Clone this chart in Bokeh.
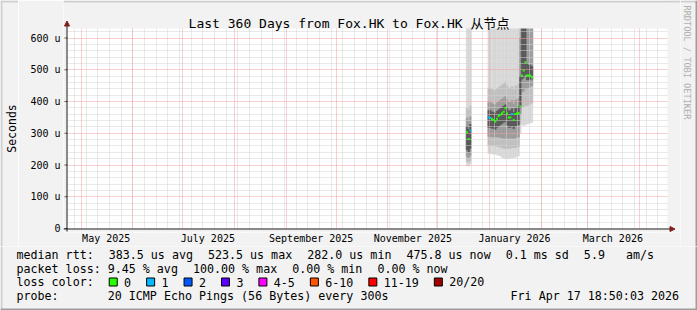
import pandas as pd
from math import pi
from bokeh.plotting import figure
from bokeh.layouts import row, column
from bokeh.models import (Range1d, Label, FixedTicker, Grid, DatetimeTickFormatter,
                          Arrow, NormalHead, BoxAnnotation, ColumnDataSource)
from bokeh.embed import file_html
from bokeh.resources import INLINE

# ---------------- data ----------------
TITLE = "Last 360 Days from Fox.HK to Fox.HK 从节点"
RANGE_START = "2025-04-22 18:50:03"
RANGE_END = "2026-04-17 18:50:03"

days = ["2025-12-18", "2025-12-19", "2025-12-20",
        "2025-12-31", "2026-01-01", "2026-01-02", "2026-01-03", "2026-01-04",
        "2026-01-05", "2026-01-06", "2026-01-07", "2026-01-08", "2026-01-09",
        "2026-01-10", "2026-01-11", "2026-01-12", "2026-01-13", "2026-01-14",
        "2026-01-15", "2026-01-16", "2026-01-17", "2026-01-18", "2026-01-19",
        "2026-01-20", "2026-01-21", "2026-01-22", "2026-01-23", "2026-01-24",
        "2026-01-25", "2026-01-26"]
# median rtt (microseconds)
median_us = [303, 282, 309,
             350, 348, 345, 342, 337, 346, 354, 358, 363, 368, 379, 362, 350,
             350, 361, 342, 361, 362, 364, 385, 482, 498, 523.5, 482, 482, 482, 476]
# lost pings out of 20
loss_pings = [0, 0, 1,
              1, 1, 0, 0, 0, 0, 0, 0, 0, 0, 0, 0, 0, 0, 1, 0, 0, 0, 0, 0,
              0, 0, 0, 0, 0, 0, 0]
# ping distribution (smoke), microseconds
smoke_min = [198, 196, 202,
             236, 236, 235, 234, 234, 232, 230, 228, 224, 222, 220, 220, 220, 221,
             222, 222, 224, 226, 228, 300, 326, 324, 326, 328, 330, 332, 334]
smoke_p10 = [210, 208, 214,
             262, 262, 261, 260, 260, 259, 258, 256, 254, 252, 252, 252, 252, 253,
             254, 254, 255, 256, 258, 330, 385, 382, 388, 386, 388, 392, 395]
smoke_p25 = [226, 222, 230,
             290, 290, 289, 288, 288, 288, 288, 287, 285, 284, 284, 284, 284, 284,
             284, 284, 285, 286, 288, 360, 430, 432, 440, 440, 444, 448, 450]
smoke_p40 = [248, 240, 252,
             318, 318, 316, 314, 312, 318, 322, 326, 330, 334, 336, 326, 318, 318,
             322, 314, 322, 324, 326, 380, 470, 475, 485, 468, 468, 470, 470]
smoke_p60 = [322, 312, 328,
             372, 372, 368, 366, 364, 370, 374, 378, 382, 386, 390, 380, 372, 372,
             378, 366, 378, 380, 384, 480, 700, 700, 700, 520, 515, 515, 510]
smoke_p75 = [348, 338, 352,
             398, 398, 394, 392, 390, 396, 400, 404, 408, 412, 416, 406, 398, 398,
             404, 392, 404, 406, 410, 600, 700, 700, 700, 700, 700, 700, 700]
smoke_p90 = [380, 372, 386,
             442, 442, 438, 436, 434, 440, 444, 448, 452, 456, 460, 450, 442, 442,
             448, 436, 448, 450, 454, 700, 700, 700, 700, 700, 700, 700, 700]
smoke_max = [700] * 30

y_ticks = [0, 100, 200, 300, 400, 500, 600]
y_tick_labels = ["0", "100 u", "200 u", "300 u", "400 u", "500 u", "600 u"]
Y_TOP = 630
x_label_months = ["2025-05-01", "2025-07-01", "2025-09-01", "2025-11-01",
                  "2026-01-01", "2026-03-01"]

legend_rtt = [["median rtt:"], ["383.5 us avg"], ["523.5 us max"], ["282.0 us min"],
              ["475.8 us now"], ["0.1 ms sd"], ["5.9", "", "", "am/s"]]
legend_loss = [["packet loss: 9.45 % avg"], ["100.00 % max"], ["0.00 % min"], ["0.00 % now"]]
loss_title = "loss color:"
loss_labels = ["0", "1", "2", "3", "4-5", "6-10", "11-19", "20/20"]
loss_colors = ["#26ff00", "#00b8ff", "#0059ff", "#5e00ff", "#ff00ff",
               "#ff5500", "#ff0000", "#a10000"]
loss_upper = [0, 1, 2, 3, 5, 10, 19, 20]
probe_head = "probe:"
probe_text = "20 ICMP Echo Pings (56 Bytes) every 300s"
stamp_text = "Fri Apr 17 18:50:03 2026"
y_axis_title = "Seconds"
watermark = "RRDTOOL / TOBI OETIKER"

# ---------------- styling / geometry ----------------
MONO = "DejaVu Sans Mono"
TITLE_FONT = "'DejaVu Sans Mono', 'Noto Sans CJK SC'"
BACK = "#f2f2f2"
SHADE_A = "#cfcfcf"
SHADE_B = "#9e9e9e"
GRID_C = "#d2d2d2"
MGRID_C = "#f0a0a0"
ARROW_C = "#801f1f"
AXIS_C = "#1f1f1f"
SMOKE_C = ["#d8d8d8", "#c0c0c0", "#9c9c9c", "#585858"]
LEG_FS = "11.66px"
CW = 7.02   # legend char advance
GAP = 15.0  # gap between legend items

W, H = 697, 310
LSTRIP = 18          # left strip (bevel + axis title)
RSTRIP = 17          # right strip (watermark)
W_MID = W - LSTRIP - RSTRIP
H_MAIN = 246
H_LEG = H - H_MAIN
PL, PR, PT, PB = 67, 667, 28, 228            # plotting area (canvas px)
FL, FR, FT, FB = 63, LSTRIP + W_MID, 0, 232  # main frame (canvas px)

t0 = pd.Timestamp(RANGE_START)
t1 = pd.Timestamp(RANGE_END)
DAY = pd.Timedelta(days=1)
d = pd.to_datetime(days)
per_px = (t1 - t0) / (PR - PL)
x_start = t0 - per_px * (PL - FL)
x_end = t1 + per_px * (FR - PR)
u_px = Y_TOP / (PB - PT)
y_start = -u_px * (FB - PB)
y_end = Y_TOP + u_px * (PT - FT)


def no_align(fig):
    try:
        fig.frame_align = False
    except Exception:
        pass


def plain(fig, bg):
    no_align(fig)
    fig.background_fill_color = bg
    fig.border_fill_color = bg
    fig.outline_line_color = None
    fig.grid.visible = False


def loss_color(n):
    for up, c in zip(loss_upper, loss_colors):
        if n <= up:
            return c
    return loss_colors[-1]


src = ColumnDataSource(dict(
    left=d.values, right=(d + DAY).values, mid=(d + DAY / 2).values,
    med=median_us, smin=smoke_min, p10=smoke_p10, p25=smoke_p25, p40=smoke_p40,
    p60=smoke_p60, p75=smoke_p75, p90=smoke_p90, smax=smoke_max,
    color=[loss_color(n) for n in loss_pings]))

# ================= main figure =================
p = figure(width=W_MID, height=H_MAIN, x_axis_type="datetime",
           x_range=Range1d(x_start, x_end), y_range=Range1d(y_start, y_end),
           output_backend="svg", toolbar_location=None, title=None,
           min_border_left=FL - LSTRIP, min_border_right=0,
           min_border_top=0, min_border_bottom=H_MAIN - FB)
no_align(p)
p.background_fill_color = "#ffffff"
p.border_fill_color = BACK
p.outline_line_color = None
p.xgrid.visible = False
p.ygrid.visible = False
p.extra_x_ranges = {"px": Range1d(FL, FR)}
p.extra_y_ranges = {"py": Range1d(FB, FT)}

for (lo, hi), col in zip([("smin", "smax"), ("p10", "p90"), ("p25", "p75"),
                          ("p40", "p60")], SMOKE_C):
    p.quad(left="left", right="right", bottom=lo, top=hi, source=src,
           fill_color=col, line_color=col, line_width=0.4, level="image")

month_starts = pd.date_range("2025-05-01", "2026-04-01", freq="MS")
sundays = pd.date_range(t0.normalize(), t1, freq="W-SUN")
ms = lambda ts: ts.value / 1e6
minor_y = [v for v in range(0, Y_TOP, 20) if v % 100 != 0]
for dim, ticks, col in [(0, [ms(s) for s in sundays], GRID_C),
                        (1, minor_y, GRID_C),
                        (0, [ms(m) for m in month_starts], MGRID_C),
                        (1, y_ticks[1:], MGRID_C)]:
    p.add_layout(Grid(dimension=dim, ticker=FixedTicker(ticks=ticks),
                      grid_line_color=col, grid_line_dash="1 1",
                      grid_line_width=1, level="underlay"))

p.rect(x="mid", y="med", width=2, height=2, width_units="screen",
       height_units="screen", fill_color="color", line_color=None, source=src)

for l, r, t, b in [(FL, FR, FT, PT), (FL, FR, PB, FB), (FL, PL, FT, FB), (PR, FR, FT, FB)]:
    p.add_layout(BoxAnnotation(left=l, right=r, top=t, bottom=b,
                               x_range_name="px", y_range_name="py",
                               fill_color=BACK, fill_alpha=1, line_color=None,
                               level="guide"))
p.add_layout(BoxAnnotation(left=FL, right=FR, top=0, bottom=2, x_range_name="px",
                           y_range_name="py", fill_color=SHADE_A, fill_alpha=1,
                           line_color=None, level="annotation"))

p.segment(x0=[PL - 3] * len(y_ticks), x1=[PL] * len(y_ticks), y0=y_ticks, y1=y_ticks,
          x_range_name="px", line_color="#555555", line_width=1, level="overlay")

p.add_layout(Arrow(end=NormalHead(size=5, fill_color=ARROW_C, line_color=ARROW_C),
                   x_start=PL - 0.5, y_start=PB + 3, x_end=PL - 0.5, y_end=PT - 7.5,
                   x_range_name="px", y_range_name="py",
                   line_color=AXIS_C, line_width=1, level="overlay"))
p.add_layout(Arrow(end=NormalHead(size=5, fill_color=ARROW_C, line_color=ARROW_C),
                   x_start=PL - 4, y_start=PB + 0.5, x_end=PR + 7.5, y_end=PB + 0.5,
                   x_range_name="px", y_range_name="py",
                   line_color=AXIS_C, line_width=1, level="overlay"))

p.add_layout(Label(x=W / 2, y=22.5, x_range_name="px", y_range_name="py", text=TITLE,
                   text_font=TITLE_FONT, text_font_size="13px", text_align="center",
                   text_baseline="middle", text_color="black", level="overlay"))

xa = p.xaxis[0]
label_ticks = [ms(pd.Timestamp(m) + pd.Timedelta(days=15)) for m in x_label_months]
xa.ticker = FixedTicker(ticks=label_ticks, minor_ticks=[])
fmt = "%B %Y"
xa.formatter = DatetimeTickFormatter(microseconds=fmt, milliseconds=fmt, seconds=fmt,
                                     minsec=fmt, minutes=fmt, hourmin=fmt, hours=fmt,
                                     days=fmt, months=fmt, years=fmt)
xa.axis_line_color = None
xa.major_tick_line_color = None
xa.minor_tick_line_color = None
xa.major_tick_out = 0
xa.major_tick_in = 0
xa.major_label_standoff = 0
xa.major_label_text_font = MONO
xa.major_label_text_font_size = "10px"
xa.major_label_text_color = "black"

ya = p.yaxis[0]
ya.ticker = FixedTicker(ticks=y_ticks, minor_ticks=[])
ya.major_label_overrides = {t: l for t, l in zip(y_ticks, y_tick_labels)}
ya.axis_line_color = None
ya.major_tick_line_color = None
ya.minor_tick_line_color = None
ya.major_tick_out = 0
ya.major_tick_in = 0
ya.major_label_standoff = 3
ya.major_label_text_font = MONO
ya.major_label_text_font_size = "10px"
ya.major_label_text_color = "black"

# ================= left strip (bevel + axis title) =================
ls = figure(width=LSTRIP, height=H_MAIN, x_range=Range1d(0, LSTRIP),
            y_range=Range1d(H_MAIN, 0), output_backend="svg", toolbar_location=None,
            min_border=0, x_axis_location=None, y_axis_location=None)
plain(ls, BACK)
ls.quad(left=[0, 0], right=[2, LSTRIP], top=[0, 0], bottom=[H_MAIN, 2],
        fill_color=SHADE_A, line_color=None)
ls.add_layout(Label(x=11, y=(PT + PB) / 2, text=y_axis_title, text_font=MONO,
                    text_font_size="11.5px", text_align="center",
                    text_baseline="middle", text_color="black", angle=pi / 2))

# ================= right strip (watermark) =================
rs = figure(width=RSTRIP, height=H_MAIN, x_range=Range1d(W - RSTRIP, W),
            y_range=Range1d(H_MAIN, 0), output_backend="svg", toolbar_location=None,
            min_border=0, x_axis_location=None, y_axis_location=None)
plain(rs, BACK)
rs.add_layout(Label(x=686.5, y=5, text=watermark, text_font=MONO, text_font_size="8.6px",
                    text_align="left", text_baseline="middle", text_color="#b0b0b0",
                    angle=-pi / 2))
rs.quad(left=[W - RSTRIP], right=[W], top=[0], bottom=[2], fill_color=SHADE_A, line_color=None)
rs.quad(left=[W - 2], right=[W], top=[0], bottom=[H_MAIN], fill_color=SHADE_B, line_color=None)

# ================= legend figure =================
lg = figure(width=W, height=H_LEG, x_range=Range1d(0, W),
            y_range=Range1d(H, H_MAIN), output_backend="svg", toolbar_location=None,
            min_border=0, x_axis_location=None, y_axis_location=None)
plain(lg, BACK)


def text(s, x, y, align="left"):
    lg.add_layout(Label(x=x, y=y, text=s, text_font=MONO, text_font_size=LEG_FS,
                        text_align=align, text_baseline="middle", text_color="black"))


def item_row(items, y):
    x = LX
    for parts in items:
        off = 0
        for part in parts:
            if part:
                text(part, x + off * CW, y)
            off += len(part) + 1
        x += (off - 1) * CW + GAP


LX = 16
item_row(legend_rtt, 254)
item_row(legend_loss, 268)
text(loss_title, LX, 281.5)
x = LX + len(loss_title) * CW + GAP
sw_left = []
for lab in loss_labels:
    sw_left.append(x)
    text(lab, x + 15.4, 281.5)
    x += 15.4 + len(lab) * CW + GAP
sw = ColumnDataSource(dict(l=[v + 0.5 for v in sw_left], r=[v + 8.5 for v in sw_left],
                           c=loss_colors))
lg.quad(left="l", right="r", top=277.5, bottom=285.5, source=sw, fill_color="c",
        line_color="black", line_width=1)
text(probe_head, LX, 295.5)
text(probe_text, LX + 13 * CW, 295.5)
text(stamp_text, 678.5, 295.5, align="right")
lg.quad(left=[0], right=[2], top=[H_MAIN], bottom=[H], fill_color=SHADE_A, line_color=None)
lg.quad(left=[0, W - 2], right=[W, W], top=[H - 2, H_MAIN], bottom=[H, H],
        fill_color=SHADE_B, line_color=None)

layout = column(row(ls, p, rs, spacing=0), lg, spacing=0)
open("out.html", "w").write(file_html(layout, INLINE))
